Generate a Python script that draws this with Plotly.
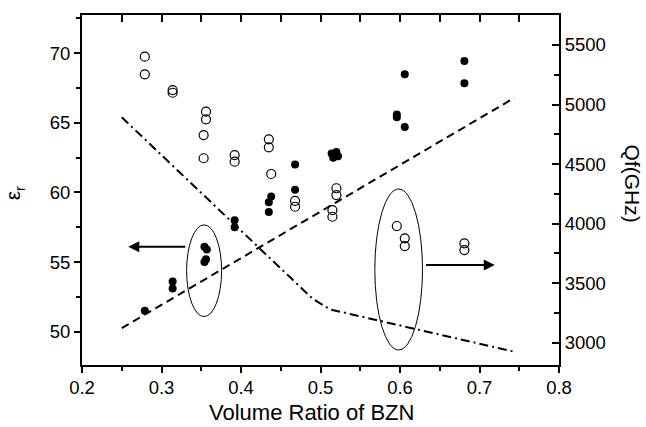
import plotly.graph_objects as go

# ---- data ----
er_x = [0.279, 0.314, 0.314, 0.354, 0.357, 0.356, 0.354, 0.392, 0.392,
        0.438, 0.435, 0.435, 0.468, 0.468, 0.514, 0.520, 0.516, 0.522,
        0.596, 0.596, 0.606, 0.606, 0.681, 0.681]
er_y = [51.5, 53.6, 53.1, 56.1, 55.9, 55.2, 55.0, 58.0, 57.5,
        59.7, 59.3, 58.6, 62.0, 60.2, 62.8, 62.9, 62.5, 62.6,
        65.6, 65.4, 64.7, 68.5, 69.45, 67.85]

qf_x = [0.279, 0.279, 0.314, 0.314, 0.356, 0.356, 0.353, 0.353, 0.392, 0.392,
        0.435, 0.435, 0.438, 0.468, 0.468, 0.520, 0.520, 0.515, 0.515,
        0.596, 0.606, 0.606, 0.681, 0.681]
qf_y = [5402, 5254, 5122, 5099, 4940, 4876, 4744, 4549, 4576, 4520,
        4708, 4641, 4417, 4192, 4142, 4297, 4240, 4114, 4058,
        3980, 3877, 3812, 3835, 3778]

er_fit_x = [0.25, 0.744]
er_fit_y = [50.25, 66.8]

qf_fit_x = [0.25, 0.49, 0.512, 0.744]
qf_fit_y = [4893, 3370, 3280, 2924]

x_ticks = [0.2, 0.3, 0.4, 0.5, 0.6, 0.7, 0.8]
er_ticks = [50, 55, 60, 65, 70]
qf_ticks = [3000, 3500, 4000, 4500, 5000, 5500]

FONT = "Liberation Sans, Arial, sans-serif"

fig = go.Figure()

fig.add_trace(go.Scatter(x=er_fit_x, y=er_fit_y, mode="lines",
                         line=dict(color="black", width=2, dash="8px,5px"),
                         yaxis="y", showlegend=False))
fig.add_trace(go.Scatter(x=qf_fit_x, y=qf_fit_y, mode="lines",
                         line=dict(color="black", width=2, dash="9px,4px,2px,4px"),
                         yaxis="y2", showlegend=False))
fig.add_trace(go.Scatter(x=er_x, y=er_y, mode="markers",
                         marker=dict(symbol="circle", size=8, color="black"),
                         yaxis="y", showlegend=False))
fig.add_trace(go.Scatter(x=qf_x, y=qf_y, mode="markers",
                         marker=dict(symbol="circle-open", size=9, color="black",
                                     line=dict(width=1.2)),
                         yaxis="y2", showlegend=False))
# invisible trace so the top axis is drawn
fig.add_trace(go.Scatter(x=[0.2], y=[60], xaxis="x2", yaxis="y",
                         mode="markers", marker=dict(opacity=0),
                         showlegend=False, hoverinfo="skip"))

# ellipses
fig.add_shape(type="circle", xref="x", yref="y",
              x0=0.3316, x1=0.3756, y0=51.08, y1=57.67,
              line=dict(color="black", width=1))
fig.add_shape(type="circle", xref="x", yref="y2",
              x0=0.5683, x1=0.6283, y0=2939, y1=4291,
              line=dict(color="black", width=1))

# arrows
fig.add_annotation(x=0.2582, y=56.1, ax=0.3336, ay=56.1,
                   xref="x", yref="y", axref="x", ayref="y",
                   text=" ", showarrow=True, arrowhead=2, arrowsize=1.1,
                   arrowwidth=2, arrowcolor="black")
fig.add_annotation(x=0.7192, y=3652, ax=0.629, ay=3652,
                   xref="x", yref="y2", axref="x", ayref="y2",
                   text=" ", showarrow=True, arrowhead=2, arrowsize=1.1,
                   arrowwidth=2, arrowcolor="black")

# axis titles
fig.add_annotation(x=0.482, y=-0.135, xref="paper", yref="paper",
                   text="Volume Ratio of BZN", showarrow=False,
                   font=dict(family=FONT, size=22, color="black"),
                   xanchor="center", yanchor="middle")
fig.add_annotation(x=-0.143, y=0.49, xref="paper", yref="paper",
                   text="ε<sub>r</sub>", showarrow=False, textangle=-90,
                   font=dict(family=FONT, size=21, color="black"),
                   xanchor="center", yanchor="middle")
fig.add_annotation(x=1.154, y=0.517, xref="paper", yref="paper",
                   text="Qf(GHz)", showarrow=False, textangle=90,
                   font=dict(family=FONT, size=21, color="black"),
                   xanchor="center", yanchor="middle")

tickfont = dict(family=FONT, size=18.5, color="black")

fig.update_layout(
    width=646, height=427,
    margin=dict(l=82, r=87, t=15, b=62),
    paper_bgcolor="white", plot_bgcolor="white",
    xaxis=dict(range=[0.2, 0.8], tickvals=x_ticks,
               ticktext=[f"{v:.1f}" for v in x_ticks],
               ticks="outside", ticklen=6, tickwidth=2, tickcolor="black",
               ticklabelstandoff=-1,
               minor=dict(dtick=0.05, ticks="outside", ticklen=4,
                          tickwidth=2, tickcolor="black"),
               showline=True, linewidth=2, linecolor="black",
               showgrid=False, zeroline=False, tickfont=tickfont),
    xaxis2=dict(range=[0.2, 0.8], overlaying="x", side="top", anchor="y",
                dtick=0.05, tick0=0.2, ticks="inside", ticklen=7, tickwidth=2,
                tickcolor="black", showticklabels=False,
                showline=True, linewidth=2, linecolor="black",
                showgrid=False, zeroline=False),
    yaxis=dict(range=[47.6, 72.75], tickvals=er_ticks,
               ticks="outside", ticklen=6, tickwidth=2, tickcolor="black",
               minor=dict(dtick=2.5, tick0=50, ticks="outside", ticklen=4,
                          tickwidth=2, tickcolor="black"),
               showline=True, linewidth=2, linecolor="black",
               showgrid=False, zeroline=False, tickfont=tickfont),
    yaxis2=dict(range=[2813, 5752], tickvals=qf_ticks, overlaying="y",
                side="right", anchor="x",
                ticks="inside", ticklen=7, tickwidth=2, tickcolor="black",
                minor=dict(dtick=250, tick0=3000, ticks="inside", ticklen=5,
                           tickwidth=2, tickcolor="black"),
                showline=True, linewidth=2, linecolor="black",
                showgrid=False, zeroline=False, tickfont=tickfont),
)

fig.write_html("out.html",
               config={"displayModeBar": False},
               post_script="document.body.style.margin='0px';"
                           "document.body.style.overflow='hidden';")
